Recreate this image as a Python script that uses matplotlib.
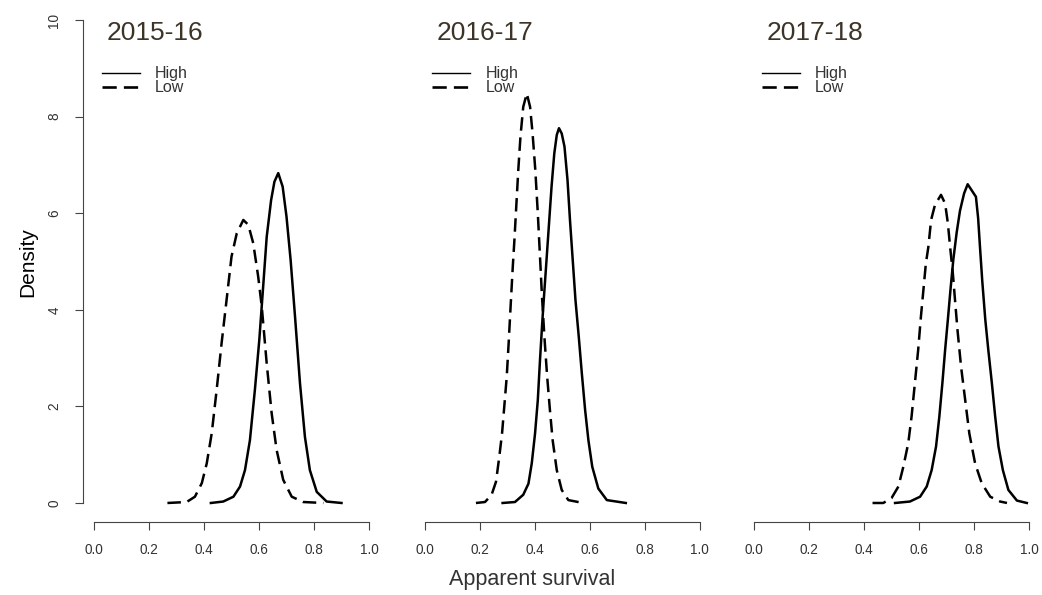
import matplotlib
matplotlib.use("Agg")
import matplotlib.pyplot as plt

plt.rcParams['font.family'] = ['Liberation Sans', 'DejaVu Sans']

# Seasons and groups
seasons = ["2015-16", "2016-17", "2017-18"]
groups = ["High", "Low"]

# Posterior densities of apparent survival (x = survival, y = density)
surv_high_1516 = [0.425, 0.470, 0.507, 0.531, 0.549, 0.567, 0.585, 0.601, 0.616, 0.628, 0.644, 0.656,
                  0.670, 0.686, 0.700, 0.715, 0.731, 0.749, 0.767, 0.785, 0.810, 0.846, 0.900]
dens_high_1516 = [0.00, 0.03, 0.13, 0.34, 0.68, 1.30, 2.34, 3.37, 4.55, 5.51, 6.27, 6.65,
                  6.83, 6.55, 5.93, 5.03, 3.86, 2.48, 1.37, 0.68, 0.23, 0.03, 0.00]
surv_low_1516 = [0.267, 0.337, 0.367, 0.392, 0.410, 0.428, 0.446, 0.464, 0.482, 0.500, 0.519, 0.543,
                 0.561, 0.579, 0.597, 0.610, 0.628, 0.646, 0.664, 0.688, 0.719, 0.761, 0.834]
dens_low_1516 = [0.00, 0.02, 0.13, 0.41, 0.82, 1.44, 2.34, 3.31, 4.20, 5.10, 5.58, 5.86,
                 5.76, 5.38, 4.69, 4.07, 2.89, 1.86, 1.10, 0.48, 0.13, 0.02, 0.00]

surv_high_1617 = [0.284, 0.329, 0.359, 0.378, 0.390, 0.402, 0.412, 0.420, 0.428, 0.433, 0.442, 0.452,
                  0.462, 0.472, 0.481, 0.489, 0.499, 0.509, 0.520, 0.529, 0.539, 0.549, 0.561,
                  0.572, 0.584, 0.596, 0.610, 0.632, 0.663, 0.732]
dens_high_1617 = [0.00, 0.02, 0.17, 0.40, 0.82, 1.44, 2.13, 2.96, 3.72, 4.15, 4.89, 5.72,
                  6.55, 7.24, 7.62, 7.76, 7.65, 7.38, 6.69, 5.86, 5.03, 4.20, 3.44,
                  2.69, 1.93, 1.30, 0.75, 0.30, 0.06, 0.00]
surv_low_1617 = [0.187, 0.220, 0.244, 0.260, 0.272, 0.282, 0.290, 0.299, 0.306, 0.313, 0.321, 0.327,
                 0.333, 0.341, 0.349, 0.359, 0.372, 0.384, 0.393, 0.403, 0.412, 0.420, 0.427,
                 0.436, 0.446, 0.456, 0.466, 0.481, 0.499, 0.523, 0.577]
dens_low_1617 = [0.00, 0.02, 0.17, 0.44, 0.96, 1.44, 1.99, 2.61, 3.31, 4.06, 4.89, 5.45,
                 6.07, 6.89, 7.59, 8.20, 8.48, 8.20, 7.65, 6.89, 6.00, 5.10, 4.30,
                 3.44, 2.62, 1.93, 1.30, 0.68, 0.27, 0.06, 0.00]

surv_high_1718 = [0.513, 0.567, 0.604, 0.628, 0.646, 0.662, 0.674, 0.685, 0.695, 0.705, 0.715, 0.725,
                  0.737, 0.749, 0.764, 0.777, 0.792, 0.807, 0.815, 0.822, 0.830, 0.841, 0.852,
                  0.865, 0.877, 0.889, 0.905, 0.925, 0.956, 0.992]
dens_high_1718 = [0.00, 0.03, 0.13, 0.34, 0.68, 1.17, 1.79, 2.48, 3.17, 3.80, 4.45, 5.05,
                  5.60, 6.05, 6.41, 6.60, 6.47, 6.34, 5.90, 5.28, 4.60, 3.80, 3.17,
                  2.48, 1.79, 1.17, 0.68, 0.27, 0.05, 0.00]
surv_low_1718 = [0.431, 0.470, 0.500, 0.525, 0.543, 0.561, 0.573, 0.585, 0.597, 0.607, 0.616, 0.625,
                 0.634, 0.644, 0.658, 0.680, 0.695, 0.705, 0.713, 0.723, 0.731, 0.740, 0.753,
                 0.768, 0.783, 0.804, 0.828, 0.859, 0.895, 0.920]
dens_low_1718 = [0.00, 0.00, 0.10, 0.34, 0.75, 1.24, 1.79, 2.48, 3.17, 3.86, 4.41, 4.96,
                 5.30, 5.86, 6.17, 6.38, 6.20, 5.79, 5.31, 4.76, 4.20, 3.58, 2.82,
                 2.13, 1.44, 0.82, 0.41, 0.13, 0.03, 0.00]

x_ticks = [0.0, 0.2, 0.4, 0.6, 0.8, 1.0]
x_tick_labels = ["0.0", "0.2", "0.4", "0.6", "0.8", "1.0"]
y_ticks = [0, 2, 4, 6, 8, 10]
y_tick_labels = ["0", "2", "4", "6", "8", "10"]

panels = [
    (surv_high_1516, dens_high_1516, surv_low_1516, dens_low_1516),
    (surv_high_1617, dens_high_1617, surv_low_1617, dens_low_1617),
    (surv_high_1718, dens_high_1718, surv_low_1718, dens_low_1718),
]

W, H = 1042, 595
fig = plt.figure(figsize=(W / 100, H / 100), dpi=100)
lefts_px = [83, 413.5, 743]
width_px = 297
bottom_px = 72.7
height_px = 521.6

axis_col = "#444444"
text_col = "#333333"
title_col = "#3d3428"
dash = (5.4, 2.7)

for i, (season, (hx, hy, lx, ly)) in enumerate(zip(seasons, panels)):
    ax = fig.add_axes([lefts_px[i] / W, bottom_px / H, width_px / W, height_px / H])
    ax.set_xlim(-0.04, 1.04)
    ax.set_ylim(-0.4, 10.4)
    ax.patch.set_alpha(0)

    ax.plot(hx, hy, color="black", lw=1.8, solid_joinstyle="round")
    ax.plot(lx, ly, color="black", lw=1.8, dashes=dash)

    for side in ("top", "right"):
        ax.spines[side].set_visible(False)
    ax.spines["bottom"].set_bounds(0, 1)
    ax.spines["bottom"].set_color(axis_col)
    ax.spines["bottom"].set_linewidth(0.8)
    ax.set_xticks(x_ticks, x_tick_labels)
    ax.tick_params(axis="x", direction="out", length=6, width=0.8, color=axis_col,
                   labelsize=9.8, labelcolor=text_col, pad=9)

    if i == 0:
        ax.spines["left"].set_bounds(0, 10)
        ax.spines["left"].set_color(axis_col)
        ax.spines["left"].set_linewidth(0.8)
        ax.set_yticks(y_ticks, y_tick_labels)
        ax.tick_params(axis="y", direction="out", length=5.5, width=0.8, color=axis_col,
                       labelsize=9.8, labelcolor=text_col, pad=10, labelrotation=90)
        for lab in ax.get_yticklabels():
            lab.set_va("center")
    else:
        ax.spines["left"].set_visible(False)
        ax.set_yticks([])

    ax.text(0.045, 9.73, season, fontsize=19, color=title_col, ha="left", va="center")

    # legend keys
    for row, (label, ls_kw, lw) in enumerate([(groups[0], {}, 1.0), (groups[1], {"dashes": dash}, 1.9)]):
        yk = 8.90 - row * 0.29
        ax.plot([0.028, 0.167], [yk, yk], color="black", lw=lw, **ls_kw)
        ax.text(0.222, yk, label, fontsize=11.5, color=text_col, ha="left", va="center")

fig.text(28 / W, 1 - 262 / H, "Density", fontsize=15, color="black",
         ha="center", va="center", rotation=90)
fig.text(532 / W, 1 - 580 / H, "Apparent survival", fontsize=15.5, color=text_col,
         ha="center", va="center")

fig.savefig("out.png", dpi=100)
